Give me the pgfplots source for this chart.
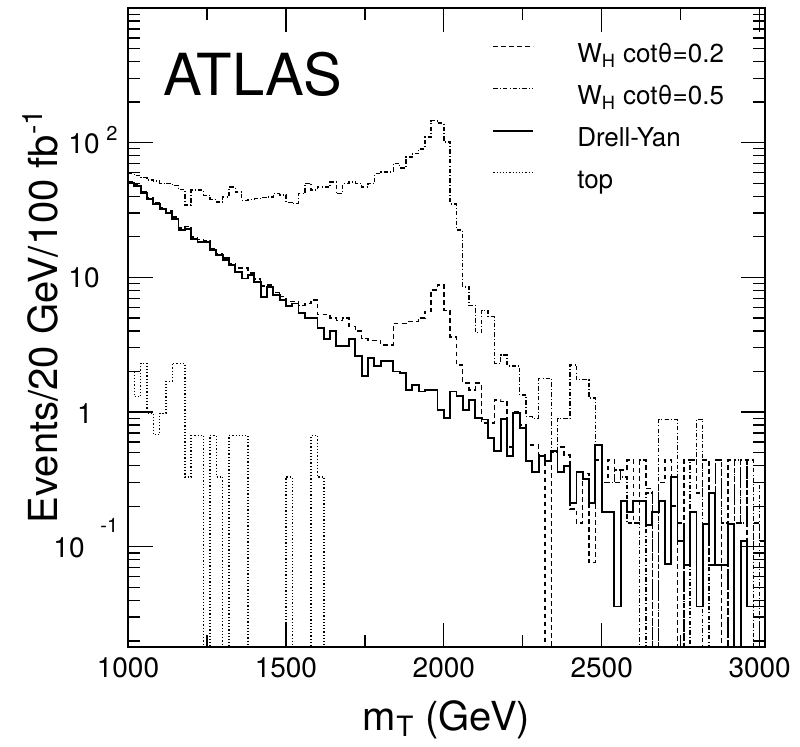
\documentclass[border=0pt]{standalone}
\usepackage{fontspec}
\setmainfont{TeX Gyre Heros}
\usepackage{pgfplots}
\usepackage{pgfplotstable}
\pgfplotsset{compat=1.18}

% m_T histograms, 20 GeV bins (left edges); 1e-4 = empty bin
\pgfplotstableread{
x dy w02 w05 top
1000 50 51.5 59 2.0
1020 48 49.5 57 1.3
1040 42 43.3 55 2.3
1060 38 39.2 53 0.98
1080 35 36 52 0.68
1100 32 33 50 0.98
1120 30 31 49.7 1.69
1140 27 28 48 2.3
1160 22.4 23.2 45 2.3
1180 23 23.8 34.4 0.33
1200 19.4 20 44.4 0.67
1220 18.4 19.2 44.4 0.67
1240 18.4 18.8 40.7 1e-4
1260 15.9 16.4 38 0.67
1280 14.6 15.1 36.3 0.33
1300 13.4 13.9 39.5 1e-4
1320 12.3 12.7 46.9 0.67
1340 11.0 11.7 43 0.67
1360 9.8 11.7 37.4 0.67
1380 10.4 10.8 38 1e-4
1400 9.3 9.7 38.4 1e-4
1420 7.2 8.6 39 1e-4
1440 8.5 8.8 39.5 1e-4
1460 7.4 7.7 41.9 1e-4
1480 6.8 7.2 41 1e-4
1500 6.1 6.6 36 0.33
1520 6.4 6.6 35.3 1e-4
1540 5.4 6.2 41.9 1e-4
1560 5.0 6.4 49.7 1e-4
1580 5.0 6.8 44.4 0.67
1600 4.2 5.3 46.9 0.33
1620 3.5 5.3 47 1e-4
1640 4.0 5.0 51 1e-4
1660 3.1 4.8 41.9 1e-4
1680 3.1 5.0 49.7 1e-4
1700 3.5 4.3 51 1e-4
1720 2.6 4.0 49.7 1e-4
1740 1.84 3.5 46.9 1e-4
1760 2.5 3.4 49.7 1e-4
1780 2.2 3.4 59 1e-4
1800 2.4 3.15 60.7 1e-4
1820 2.4 3.15 60.7 1e-4
1840 2.0 4.56 69.9 1e-4
1860 1.95 4.56 65 1e-4
1880 1.46 4.7 78.5 1e-4
1900 1.6 4.7 82.8 1e-4
1920 1.42 5.0 90 1e-4
1940 1.46 5.6 110 1e-4
1960 1.46 8.05 146 1e-4
1980 1.04 8.8 140 1e-4
2000 0.90 5.7 101 1e-4
2020 1.42 3.6 35 1e-4
2040 1.31 2.24 22.4 1e-4
2060 1.04 1.64 8.5 1e-4
2080 1.23 1.46 6.2 1e-4
2100 0.90 1.64 3.9 1e-4
2120 0.88 0.83 5.7 1e-4
2140 0.64 0.83 5.1 1e-4
2160 0.51 1.23 2.3 1e-4
2180 0.89 1.2 2.66 1e-4
2200 0.47 0.55 2.2 1e-4
2220 0.98 1.0 2.2 1e-4
2240 0.76 0.8 1.34 1e-4
2260 0.43 0.57 0.93 1e-4
2280 0.36 0.57 0.9 1e-4
2300 0.47 0.48 1.78 1e-4
2320 0.43 1e-4 1.78 1e-4
2340 0.51 0.5 0.5 1e-4
2360 0.36 0.55 0.9 1e-4
2380 0.395 0.48 0.9 1e-4
2400 0.21 0.19 2.24 1e-4
2420 0.36 0.15 1.74 1e-4
2440 0.32 0.35 1.74 1e-4
2460 0.21 0.076 1.27 1e-4
2480 0.57 0.44 0.57 1e-4
2500 0.18 0.3 0.30 1e-4
2520 0.18 0.44 0.30 1e-4
2540 0.036 0.3 0.37 1e-4
2560 0.22 0.37 0.33 1e-4
2580 0.18 0.44 0.15 1e-4
2600 0.22 0.15 0.15 1e-4
2620 0.22 0.44 1e-4 1e-4
2640 0.145 0.27 0.25 1e-4
2660 0.18 1e-4 1e-4 1e-4
2680 0.22 0.3 0.88 1e-4
2700 0.074 0.44 0.88 1e-4
2720 0.33 0.2 0.88 1e-4
2740 0.11 1e-4 0.15 1e-4
2760 0.073 0.44 1e-4 1e-4
2780 0.18 0.44 0.44 1e-4
2800 0.036 0.25 0.88 1e-4
2820 0.148 0.44 1e-4 1e-4
2840 0.25 0.073 0.25 1e-4
2860 0.073 0.44 0.44 1e-4
2880 0.073 1e-4 0.15 1e-4
2900 0.148 0.44 1e-4 1e-4
2920 1e-4 0.15 0.44 1e-4
2940 0.11 0.44 0.15 1e-4
2960 0.036 0.1 0.44 1e-4
2980 0.036 0.15 1e-4 1e-4
3000 0.036 0.11 0.3 1e-4
3020 0.036 0.11 0.3 1e-4
}\hist

\begin{document}
\begin{tikzpicture}
\begin{axis}[
  name=ax,
  scale only axis,
  width=318.5pt, height=319.5pt,
  xmin=1000, xmax=3017,
  ymode=log, ymin=0.018, ymax=1000,
  xtick={1000,1500,2000,2500,3000},
  xticklabels={1000,1500,2000,2500,3000},
  minor xtick={1250,1750,2250,2750},
  ytick={0.1,1,10,100},
  yticklabels={},
  minor ytick={0.02,0.03,0.04,0.05,0.06,0.07,0.08,0.09,0.2,0.3,0.4,0.5,0.6,0.7,0.8,0.9,2,3,4,5,6,7,8,9,20,30,40,50,60,70,80,90,200,300,400,500,600,700,800,900},
  tick align=inside,
  tick pos=both,
  major tick length=12.25pt,
  minor tick length=6pt,
  every tick/.style={black, line width=0.65pt},
  axis line style={line width=0.65pt},
  xticklabel style={font=\fontsize{14}{14}\selectfont, yshift=-2pt},
  clip mode=individual,
  legend style={at={(rel axis cs:0.5714,0.948)}, anchor=north west,
    draw=none, fill=none, inner sep=0pt,
    font=\fontsize{13}{13}\selectfont,
    nodes={inner sep=1pt, text height=9.5pt, text depth=3.5pt},
    row sep=6pt,
    /tikz/every odd column/.append style={column sep=20.5pt}},
  legend cell align=left,
  legend image code/.code={\draw[#1] (0pt,5pt) -- (20pt,5pt);},
]
\addplot[const plot mark left, black, line width=0.7pt, dash pattern=on 2.4pt off 1.6pt] table[x=x, y=w02] {\hist};
\addlegendentry{W\textsubscript{H} cotθ=0.2}
\addplot[const plot mark left, black, line width=0.7pt, dash pattern=on 2.2pt off 1.1pt on 0.45pt off 1.1pt] table[x=x, y=w05] {\hist};
\addlegendentry{W\textsubscript{H} cotθ=0.5}
\addplot[const plot mark left, black, line width=0.95pt] table[x=x, y=dy] {\hist};
\addlegendentry{Drell-Yan}
\addplot[const plot mark left, black, line width=0.7pt, dash pattern=on 0.6pt off 1.0pt] table[x=x, y=top] {\hist};
\addlegendentry{top}

% ROOT-style log labels
\node[anchor=base east, inner sep=0pt, font=\fontsize{14}{14}\selectfont] at ([xshift=-14pt, yshift=-5.5pt]axis cs:1000,100) {10};
\node[anchor=base west, inner sep=0pt, font=\fontsize{10}{10}\selectfont] at ([xshift=-11pt, yshift=1pt]axis cs:1000,100) {2};
\node[anchor=base east, inner sep=0pt, font=\fontsize{14}{14}\selectfont] at ([xshift=-14pt, yshift=-5pt]axis cs:1000,10) {10};
\node[anchor=base east, inner sep=0pt, font=\fontsize{14}{14}\selectfont] at ([xshift=-17.5pt, yshift=-5.5pt]axis cs:1000,1) {1};
\node[anchor=base east, inner sep=0pt, font=\fontsize{14}{14}\selectfont] at ([xshift=-21.5pt, yshift=-5.5pt]axis cs:1000,0.1) {10};
\node[anchor=base west, inner sep=0pt, font=\fontsize{10}{10}\selectfont] at ([xshift=-14pt, yshift=7pt]axis cs:1000,0.1) {-1};

\node[anchor=base, inner sep=0pt, font=\fontsize{20}{20}\selectfont] at ([yshift=-41.5pt]rel axis cs:0.5,0) {m\textsubscript{T} (GeV)};
\node[anchor=base, rotate=90, inner sep=0pt, font=\fontsize{20}{20}\selectfont] at ([xshift=-35pt]rel axis cs:0,0.518) {Events/20 GeV/100 fb\textsuperscript{-1}};
\node[anchor=base west, inner sep=0pt, font=\fontsize{29}{29}\selectfont] at ([xshift=17.5pt, yshift=-43.5pt]rel axis cs:0,1) {ATLAS};
\end{axis}
\pgfresetboundingbox
\path[use as bounding box] ([xshift=-64pt, yshift=-49.5pt]ax.south west) rectangle ([xshift=17.5pt, yshift=4pt]ax.north east);
\end{tikzpicture}
\end{document}
